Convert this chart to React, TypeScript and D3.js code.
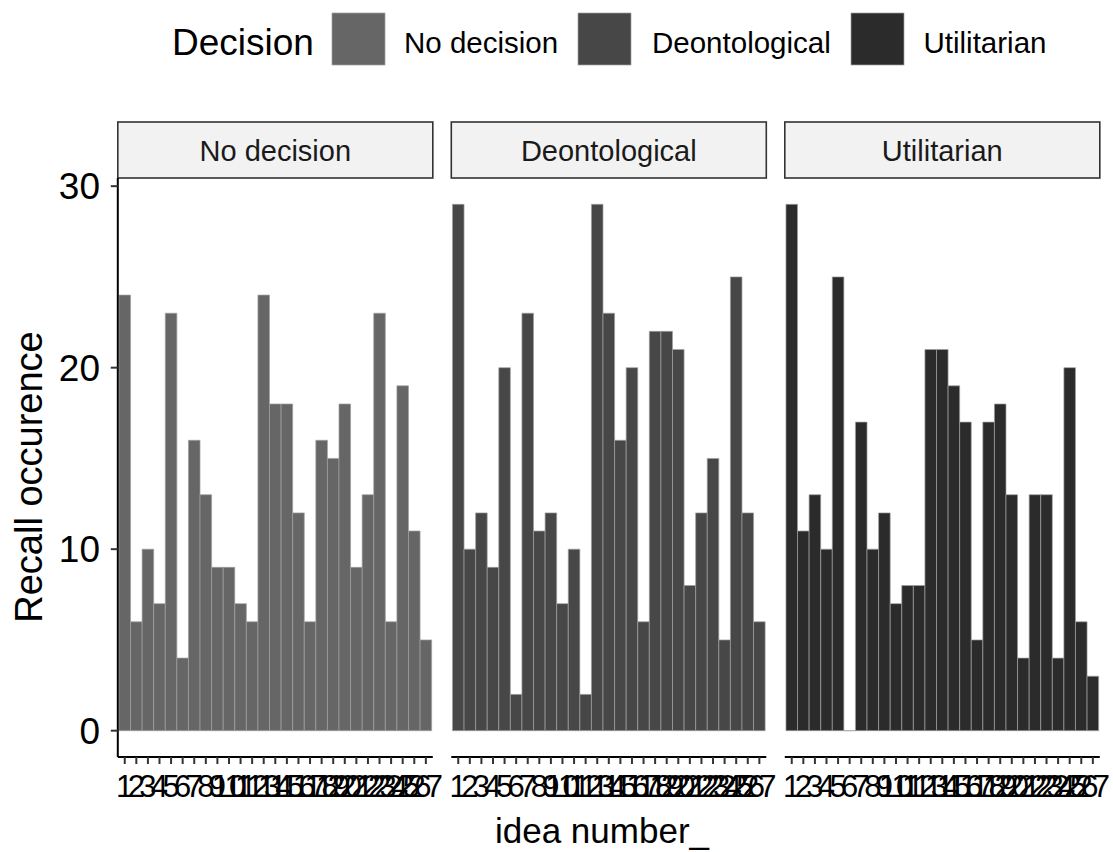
import React from 'react';
import * as d3 from 'd3';

const decisions = ['No decision', 'Deontological', 'Utilitarian'];
const ideaNumbers = ['1', '2', '3', '4', '5', '6', '7', '8', '9', '10', '11', '12', '13', '14', '15', '16', '17', '18', '19', '20', '21', '22', '23', '24', '25', '26', '27'];
const noDecisionCounts = [24, 6, 10, 7, 23, 4, 16, 13, 9, 9, 7, 6, 24, 18, 18, 12, 6, 16, 15, 18, 9, 13, 23, 6, 19, 11, 5];
const deontologicalCounts = [29, 10, 12, 9, 20, 2, 23, 11, 12, 7, 10, 2, 29, 23, 16, 20, 6, 22, 22, 21, 8, 12, 15, 5, 25, 12, 6];
const utilitarianCounts = [29, 11, 13, 10, 25, 0, 17, 10, 12, 7, 8, 8, 21, 21, 19, 17, 5, 17, 18, 13, 4, 13, 13, 4, 20, 6, 3];
const fillColors = ['#666666', '#474747', '#2b2b2b'];
const yTicks = [0, 10, 20, 30];

const W = 1113;
const H = 852;
const FONT = '"Liberation Sans", Arial, Helvetica, sans-serif';
const panelTop = 178;
const panelBottom = 757;
const panelWidth = 315;
const panelGap = 18.5;
const firstPanelLeft = 117.8;
const stripTop = 122;

export default function App() {
  const series = [noDecisionCounts, deontologicalCounts, utilitarianCounts];
  const y = d3.scaleLinear().domain([-1.45, 30.45]).range([panelBottom, panelTop]);
  const color = d3.scaleOrdinal<string, string>().domain(decisions).range(fillColors);

  const legendItems = [
    { key: decisions[0], keyX: 332, labelX: 404 },
    { key: decisions[1], keyX: 578, labelX: 652 },
    { key: decisions[2], keyX: 851, labelX: 923.5 },
  ];

  return (
    <svg width={W} height={H} style={{ position: 'absolute', left: 0, top: 0, background: '#fff' }} fontFamily={FONT}>
      <rect x={0} y={0} width={W} height={H} fill="#fff" />
      {/* legend */}
      <text x={172} y={55} fontSize={37} fill="#000">Decision</text>
      {legendItems.map((it) => (
        <g key={it.key}>
          <rect x={it.keyX} y={13} width={53} height={52} fill={color(it.key)} stroke="#a0a0a0" strokeWidth={0.7} />
          <text x={it.labelX} y={53} fontSize={29.5} fill="#000">{it.key}</text>
        </g>
      ))}

      {decisions.map((dec, p) => {
        const left = firstPanelLeft + p * (panelWidth + panelGap);
        const x = d3.scaleBand<string>().domain(ideaNumbers).range([left, left + panelWidth]).paddingInner(0).paddingOuter(0.1);
        const vals = series[p];
        return (
          <g key={dec}>
            {/* strip */}
            <rect x={left} y={stripTop} width={panelWidth} height={panelTop - stripTop} fill="#f2f2f2" stroke="#333" strokeWidth={1.6} />
            <text x={left + panelWidth / 2} y={161} fontSize={29} textAnchor="middle" fill="#1a1a1a">{dec}</text>
            {/* bars */}
            {ideaNumbers.map((idea, i) => {
              const x0 = x(idea)!;
              const w = x.bandwidth();
              const y0 = y(0);
              const y1 = y(vals[i]);
              const p2 = d3.path();
              p2.moveTo(x0, y0);
              p2.lineTo(x0, y1);
              p2.lineTo(x0 + w, y1);
              p2.lineTo(x0 + w, y0);
              p2.closePath();
              return <path key={idea} d={p2.toString()} fill={color(dec)} stroke="#a0a0a0" strokeWidth={0.7} />;
            })}
            {/* x axis */}
            <line x1={left} x2={left + panelWidth} y1={panelBottom} y2={panelBottom} stroke="#000" strokeWidth={2} />
            {ideaNumbers.map((idea) => {
              const cx = x(idea)! + x.bandwidth() / 2;
              return (
                <g key={'t' + idea}>
                  <line x1={cx} x2={cx} y1={panelBottom} y2={panelBottom + 7} stroke="#333" strokeWidth={2} />
                  <text x={cx} y={797} fontSize={31} textAnchor="middle" fill="#000">{idea}</text>
                </g>
              );
            })}
            {p === 0 && (
              <g>
                <line x1={left} x2={left} y1={panelTop} y2={panelBottom} stroke="#000" strokeWidth={2} />
                {yTicks.map((t) => (
                  <g key={'y' + t}>
                    <line x1={left - 7} x2={left} y1={y(t)} y2={y(t)} stroke="#333" strokeWidth={2} />
                    <text x={100} y={y(t) + 13.3} fontSize={37} textAnchor="end" fill="#000">{t}</text>
                  </g>
                ))}
              </g>
            )}
          </g>
        );
      })}

      {/* axis titles */}
      <text x={602} y={843} fontSize={35} textAnchor="middle" fill="#000">idea number_</text>
      <text transform="translate(42,477) rotate(-90)" fontSize={38} textAnchor="middle" fill="#000">Recall occurence</text>
    </svg>
  );
}
